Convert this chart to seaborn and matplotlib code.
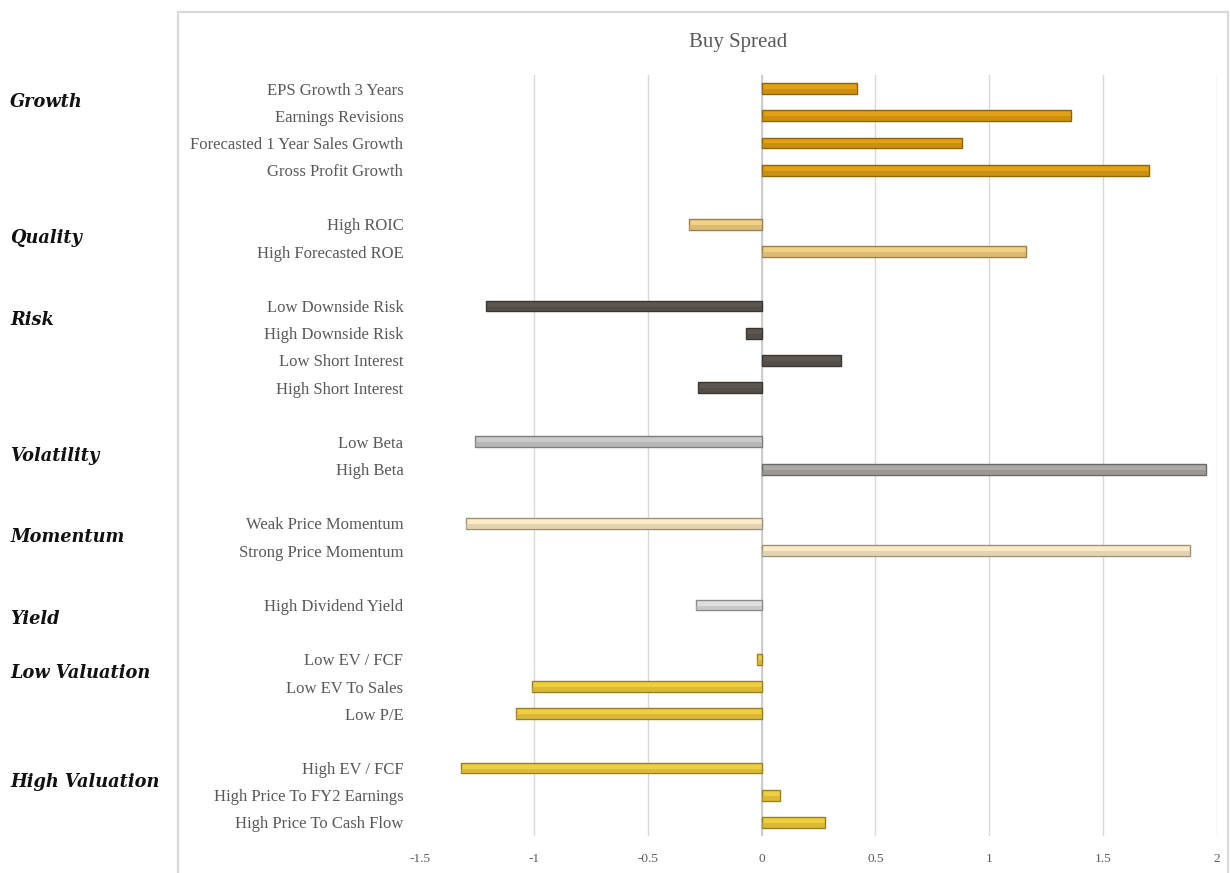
import matplotlib
matplotlib.use("Agg")
import matplotlib.pyplot as plt
import matplotlib.patches as mpatches
import matplotlib.transforms as mtransforms
import numpy as np
import pandas as pd
import seaborn as sns

# Factor groups, their members and the buy-spread of each factor
group_names = ["Growth", "Quality", "Risk", "Volatility", "Momentum", "Yield",
               "Low Valuation", "High Valuation"]

growth_labels = ["EPS Growth 3 Years", "Earnings Revisions",
                 "Forecasted 1 Year Sales Growth", "Gross Profit Growth"]
growth_values = [0.42, 1.36, 0.88, 1.70]

quality_labels = ["High ROIC", "High Forecasted ROE"]
quality_values = [-0.32, 1.16]

risk_labels = ["Low Downside Risk", "High Downside Risk", "Low Short Interest",
               "High Short Interest"]
risk_values = [-1.21, -0.07, 0.35, -0.28]

volatility_labels = ["Low Beta", "High Beta"]
volatility_values = [-1.26, 1.95]

momentum_labels = ["Weak Price Momentum", "Strong Price Momentum"]
momentum_values = [-1.30, 1.88]

yield_labels = ["High Dividend Yield"]
yield_values = [-0.29]

low_val_labels = ["Low EV / FCF", "Low EV To Sales", "Low P/E"]
low_val_values = [-0.02, -1.01, -1.08]

high_val_labels = ["High EV / FCF", "High Price To FY2 Earnings",
                   "High Price To Cash Flow"]
high_val_values = [-1.32, 0.08, 0.28]

x_ticks = [-1.5, -1, -0.5, 0, 0.5, 1, 1.5, 2]

# Fill colours (one per factor)
growth_colors = ["#E2A014"] * 4
quality_colors = ["#F3D082"] * 2
risk_colors = ["#5D5650"] * 4
volatility_colors = ["#CACACA", "#ADA9A6"]
momentum_colors = ["#FCEBC6"] * 2
yield_colors = ["#DEDEDE"]
low_val_colors = ["#F1CE3E"] * 3
high_val_colors = ["#F1CE3E"] * 3

groups = [
    (growth_labels, growth_values, growth_colors),
    (quality_labels, quality_values, quality_colors),
    (risk_labels, risk_values, risk_colors),
    (volatility_labels, volatility_values, volatility_colors),
    (momentum_labels, momentum_values, momentum_colors),
    (yield_labels, yield_values, yield_colors),
    (low_val_labels, low_val_values, low_val_colors),
    (high_val_labels, high_val_values, high_val_colors),
]

# Build the category order, with one empty slot between groups
order, rows, palette, group_start = [], [], {}, []
for gi, (labels, values, colors) in enumerate(groups):
    if gi > 0:
        order.append(" " * gi)
    group_start.append(len(order))
    for lab, val, col in zip(labels, values, colors):
        order.append(lab)
        rows.append({"factor": lab, "spread": val})
        palette[lab] = col
df = pd.DataFrame(rows)


def darker(hex_color, f):
    rgb = np.array(matplotlib.colors.to_rgb(hex_color))
    return tuple(rgb * f)


sns.set_style("white")
W, H = 1230, 873
fig = plt.figure(figsize=(W / 100, H / 100), dpi=100)
ax = fig.add_axes([420 / W, (H - 836) / H, (1217 - 420) / W, (836 - 75) / H])

sns.barplot(data=df, y="factor", x="spread", order=order, hue="factor",
            palette=palette, legend=False, orient="h", width=0.40, ax=ax,
            saturation=1, linewidth=0)

# Bevelled look: darker outline plus a shaded stripe along the lower half
for p in list(ax.patches):
    if p.get_width() == 0 or np.isnan(p.get_width()):
        continue
    hexc = matplotlib.colors.to_hex(p.get_facecolor())
    p.set_edgecolor(darker(hexc, 0.62))
    p.set_linewidth(1.0)
    x0, y0 = p.get_x(), p.get_y()
    w, h = p.get_width(), p.get_height()
    ax.add_patch(mpatches.Rectangle((x0, y0 + h * 0.55), w, h * 0.45,
                                    facecolor=darker(hexc, 0.82),
                                    edgecolor="none", alpha=0.55,
                                    zorder=p.get_zorder() + 0.1))

ax.set_xlim(-1.5, 2)
ax.set_ylim(len(order) - 0.5, -0.5)
ax.set_xticks(x_ticks)
ax.set_xticklabels([("%g" % t) for t in x_ticks])
ax.set_yticks(range(len(order)))
ax.set_yticklabels([o if o.strip() else "" for o in order])
ax.set_xlabel("")
ax.set_ylabel("")
for s in ax.spines.values():
    s.set_visible(False)
ax.grid(False)
for t in x_ticks[1:]:
    ax.axvline(t, color="#D9D9D9", lw=1.0, zorder=0)
ax.axvline(0, color="#C8C8C8", lw=1.2, zorder=0.5)
ax.tick_params(axis="y", length=0, pad=12, labelsize=12, labelcolor="#595959")
ax.tick_params(axis="x", length=0, pad=12, labelsize=9.5, labelcolor="#595959")
for lab in ax.get_yticklabels():
    lab.set_fontfamily("Liberation Serif")
for lab in ax.get_xticklabels():
    lab.set_fontfamily("Liberation Serif")

# Chart frame
fig.add_artist(mpatches.Rectangle((178 / W, -0.01), (1228 - 178) / W, (H - 12) / H + 0.01,
                                  transform=fig.transFigure, fill=False,
                                  edgecolor="#D9D9D9", lw=1.6))

fig.text(738 / W, 1 - 42 / H, "Buy Spread", ha="center", va="center",
         fontsize=15, color="#595959", family="Liberation Serif")

# Group captions at the far left
trans = mtransforms.blended_transform_factory(fig.transFigure, ax.transData)
for name, start in zip(group_names, group_start):
    ax.text(10 / W, start + 0.5, name, transform=trans, ha="left", va="center",
            fontsize=12.8, fontweight="bold", fontstyle="italic",
            family="DejaVu Serif", color="#111111", clip_on=False)

fig.savefig("out.png", dpi=100)
